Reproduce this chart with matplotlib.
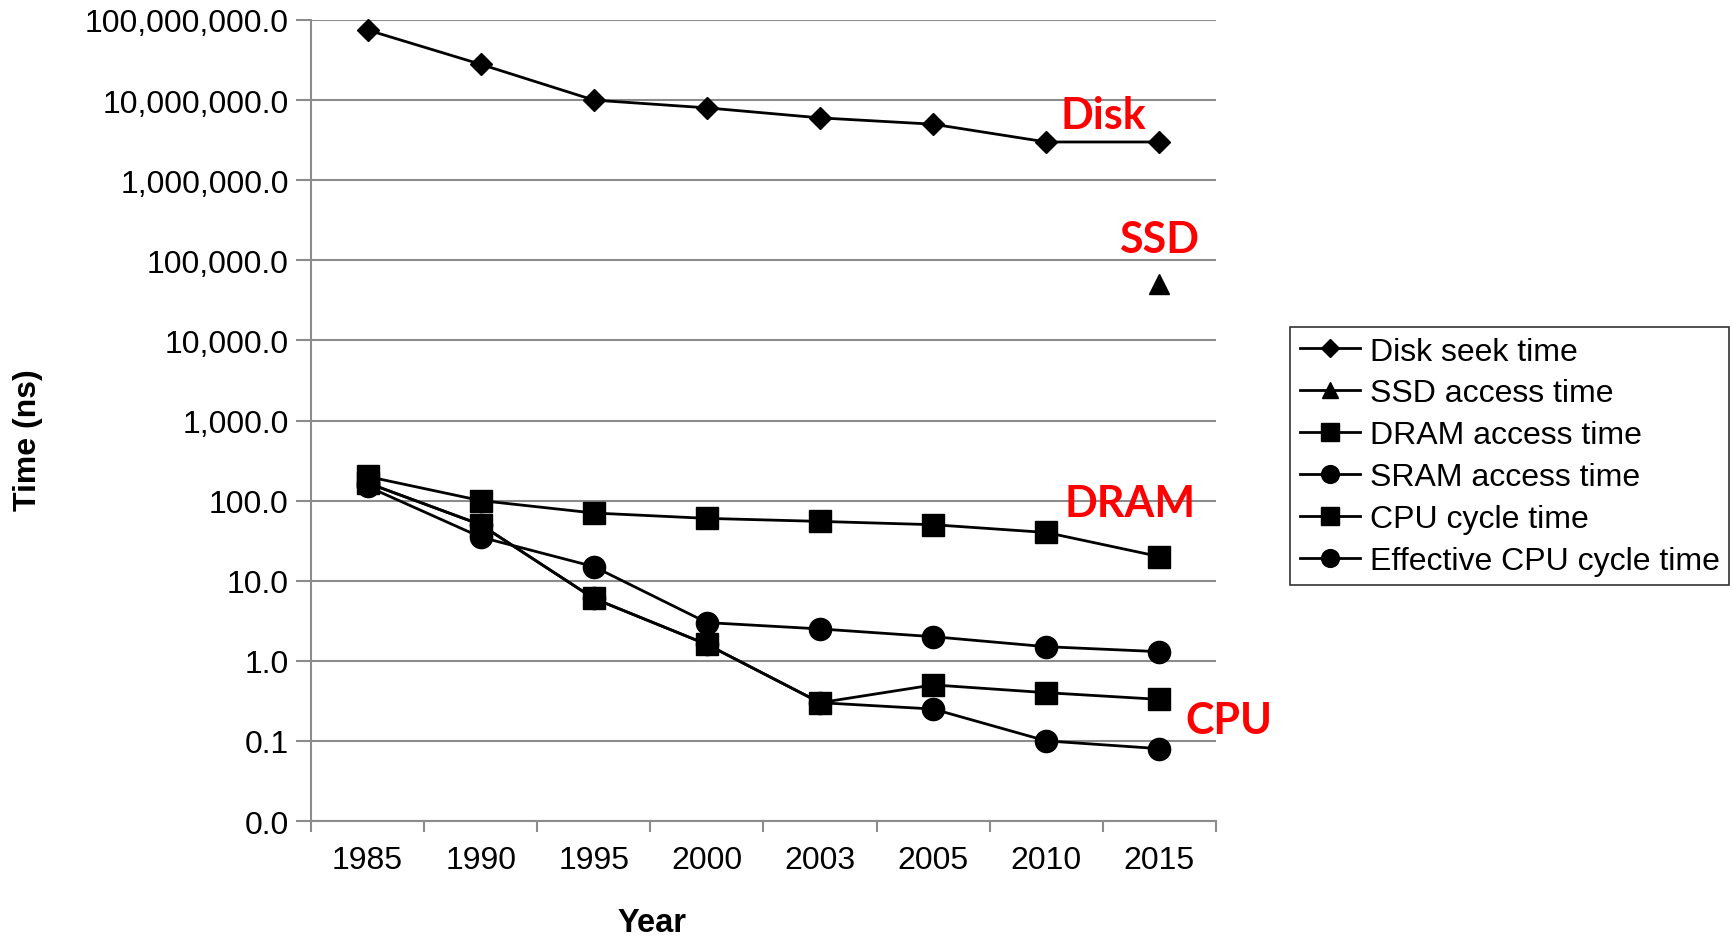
import numpy as np
import matplotlib
matplotlib.use('Agg')
import matplotlib.pyplot as plt
from matplotlib.ticker import FixedLocator, FuncFormatter

plt.rcParams['font.family'] = ['Liberation Sans', 'DejaVu Sans']

# dados
years = ['1985', '1990', '1995', '2000', '2003', '2005', '2010', '2015']
disk = [75000000, 28000000, 10000000, 8000000, 6000000, 5000000, 3000000, 3000000]
ssd = [np.nan, np.nan, np.nan, np.nan, np.nan, np.nan, np.nan, 50000]
dram = [200, 100, 70, 60, 55, 50, 40, 20]
sram = [150, 35, 15, 3, 2.5, 2, 1.5, 1.3]
cpu = [166, 50, 6, 1.6, 0.3, 0.5, 0.4, 0.33]
cpu_eff = [166, 50, 6, 1.6, 0.3, 0.25, 0.1, 0.08]

labels = ['Disk seek time', 'SSD access time', 'DRAM access time',
          'SRAM access time', 'CPU cycle time', 'Effective CPU cycle time']

# rotulos em vermelho (texto, x, y)
notes = [('Disk', 6.5, 10**6.82), ('SSD', 7.0, 10**5.27),
         ('DRAM', 6.74, 10**1.97), ('CPU', 7.61, 10**-0.74)]

fig = plt.figure(figsize=(17.33, 9.37), dpi=100)
ax = fig.add_axes([311/1733, 1-822/937, (1216-311)/1733, (822-21)/937])

x = np.arange(len(years))
series = [disk, ssd, dram, sram, cpu, cpu_eff]
markers = ['D', '^', 's', 'o', 's', 'o']
msizes = [11, 15, 16, 16, 16, 16]
for s, m, ms, lab in zip(series, markers, msizes, labels):
    ax.plot(x, s, color='black', lw=2, marker=m, markersize=ms, label=lab,
            clip_on=False, zorder=3)

ax.set_yscale('log')
ax.set_ylim(0.01, 1e8)
ax.set_xlim(-0.5, 7.5)
ax.yaxis.set_major_locator(FixedLocator([10.0**k for k in range(-2, 9)]))
ax.yaxis.set_minor_locator(FixedLocator([]))
ax.yaxis.set_major_formatter(FuncFormatter(lambda v, p: '{:,.1f}'.format(v)))
ax.grid(axis='y', color='#8c8c8c', lw=1.5)
ax.set_axisbelow(True)

ax.set_xticks(x)
ax.set_xticklabels(years)
ax.xaxis.set_minor_locator(FixedLocator(np.arange(-0.5, 8, 1)))
ax.tick_params(axis='x', which='major', length=0, pad=17, labelsize=23)
ax.tick_params(axis='x', which='minor', length=8, width=1.5, color='#8c8c8c')
ax.tick_params(axis='y', length=11, width=1.5, color='#8c8c8c', pad=5, labelsize=23)

for sp in ['top', 'right']:
    ax.spines[sp].set_visible(False)
for sp in ['left', 'bottom']:
    ax.spines[sp].set_color('#8c8c8c')
    ax.spines[sp].set_linewidth(1.5)

for txt, xx, yy in notes:
    ax.text(xx, yy, txt, color='red', fontsize=31, fontweight='bold',
            family=['Lato', 'DejaVu Sans'], ha='center', va='center', clip_on=False)

fig.text(28/1733, 1-440/937, 'Time (ns)', rotation=90, fontsize=23,
         fontweight='bold', ha='center', va='center')
fig.text(652/1733, 1-924/937, 'Year', fontsize=23.5, fontweight='bold',
         ha='center', va='center')

leg = fig.legend(loc='upper left', bbox_to_anchor=(1290/1733, 1-328/937),
                 fontsize=23, frameon=True, fancybox=False, edgecolor='black',
                 handlelength=1.9, labelspacing=0.37, borderpad=0.3,
                 handletextpad=0.3, markerscale=0.8, borderaxespad=0)
leg.get_frame().set_linewidth(1.2)

plt.savefig('out.png', dpi=100)
